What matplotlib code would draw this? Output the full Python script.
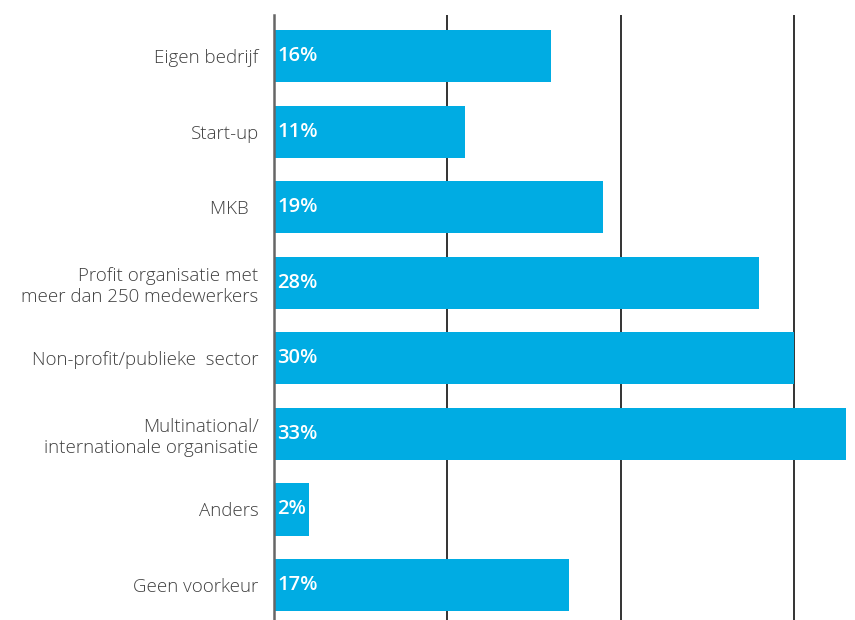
import matplotlib
matplotlib.use('Agg')
import matplotlib.pyplot as plt

categories = ['Eigen bedrijf', 'Start-up', 'MKB  ', 'Profit organisatie met\nmeer dan 250 medewerkers',
              'Non-profit/publieke  sector', 'Multinational/\ninternationale organisatie',
              'Anders', 'Geen voorkeur']
values = [16, 11, 19, 28, 30, 33, 2, 17]
value_labels = ['16%', '11%', '19%', '28%', '30%', '33%', '2%', '17%']

bar_color = '#00ACE3'
plt.rcParams['font.family'] = ['Open Sans', 'DejaVu Sans']

fig = plt.figure(figsize=(8.55, 6.2), dpi=100)
ax = fig.add_axes([274 / 855, 0, 581 / 855, 605 / 620])

pos = list(range(len(categories)))
ax.barh(pos, values, height=0.69, color=bar_color, zorder=3)
for p, v, lab in zip(pos, values, value_labels):
    ax.text(0.2, p, lab, color='white', fontsize=14.5, fontweight='semibold',
            va='center', ha='left', zorder=4)

ax.set_xlim(0, 33.52)
ax.set_ylim(7.463, -0.543)
ax.set_yticks(pos)
ax.set_yticklabels(categories, fontsize=13.5, color='#404040', fontweight='light')
ax.tick_params(axis='y', length=0, pad=11)
ax.set_xticks([10, 20, 30])
ax.tick_params(axis='x', length=0, labelbottom=False)
ax.grid(axis='x', color='#333333', linewidth=1.4, zorder=1)
for s in ['top', 'right', 'bottom']:
    ax.spines[s].set_visible(False)
ax.spines['left'].set_color('#666666')
ax.spines['left'].set_linewidth(1.8)
ax.spines['left'].set_zorder(5)

fig.savefig('out.png', dpi=100)
